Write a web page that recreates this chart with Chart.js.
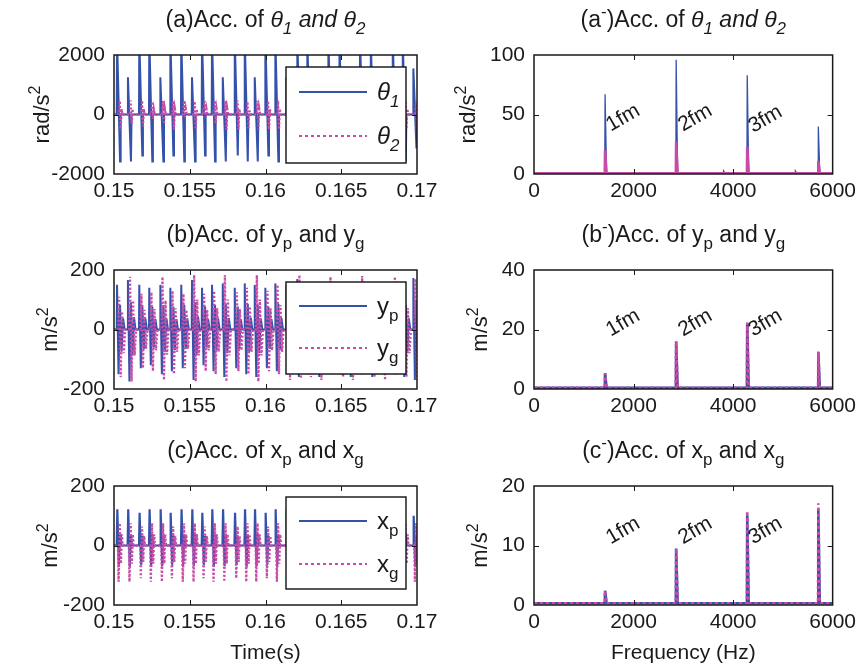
<!DOCTYPE html>
<html><head><meta charset="utf-8">
<script src="https://cdn.jsdelivr.net/npm/chart.js@4.4.1/dist/chart.umd.min.js"></script>
<style>
html,body{margin:0;padding:0;background:#fff;}
#wrap{position:relative;width:861px;height:664px;overflow:hidden;background:#fff;}
#wrap canvas{position:absolute;left:0;top:0;}
</style></head><body><div id="wrap">
<canvas id="c1" width="861" height="664"></canvas>
<canvas id="c2" width="861" height="664"></canvas>
<canvas id="c3" width="861" height="664"></canvas>
<canvas id="c4" width="861" height="664"></canvas>
<canvas id="c5" width="861" height="664"></canvas>
<canvas id="c6" width="861" height="664"></canvas>
</div>
<script>
// ---------------- DATA ----------------
const timeTickValues = [0.15, 0.155, 0.16, 0.165, 0.17];
const timeTickLabels = ['0.15', '0.155', '0.16', '0.165', '0.17'];
const freqTickValues = [0, 2000, 4000, 6000];
const freqTickLabels = ['0', '2000', '4000', '6000'];
const thetaAccTicks = [-2000, 0, 2000];
const thetaAccLabels = ['-2000', '0', '2000'];
const linAccTicks = [-200, 0, 200];
const linAccLabels = ['-200', '0', '200'];
const thetaSpecTicks = [0, 50, 100];
const ySpecTicks = [0, 20, 40];
const xSpecTicks = [0, 10, 20];

// times of the mesh impacts (s)
const spikeTimes = [0.15020, 0.15092, 0.15167, 0.15233, 0.15306, 0.15372, 0.15444, 0.15515, 0.15581, 0.15647,
  0.15718, 0.15797, 0.15863, 0.15929, 0.15999, 0.16065, 0.16138, 0.16210, 0.16276, 0.16345,
  0.16415, 0.16488, 0.16553, 0.16624, 0.16695, 0.16765, 0.16840, 0.16906, 0.16976];

// (a) theta1 / theta2 peaks (rad/s^2)
const theta1Hi = [2600,1250,2600,2600,1250,2600,2600,1250,2600,2600,1250,2600,2600,1250,2600,2600,1250,2600,2600,1250,2600,2600,1250,2600,2600,1250,2600,2600,1550];
const theta1Lo = [-1580,-1580,-1380,-1580,-1580,-1380,-1580,-1580,-1380,-1580,-1580,-1380,-1580,-1580,-1380,-1580,-1580,-1380,-1580,-1580,-1380,-1580,-1580,-1380,-1580,-1580,-1380,-1580,-1110];
const theta2Hi = [460,470,470,430,450,460,470,440,450,470,460,470,430,460,450,470,460,450,470,440,460,470,450,460,470,440,460,470,430];
const theta2Lo = [-540,-310,-400,-150,-320,-500,-100,-500,-100,-310,-500,-500,-500,-500,-500,-500,-480,-500,-480,-520,-500,-520,-480,-500,-540,-500,-520,-480,-540];

// (b) y_p / y_g peaks (m/s^2)
const ypHi = [150,166,150,140,150,140,150,166,140,150,155,140,155,150,140,155,150,170,150,160,150,140,160,150,145,160,150,150,173];
const ypLo = [-150,-175,-130,-120,-150,-140,-130,-170,-120,-140,-160,-130,-150,-160,-130,-140,-150,-160,-150,-160,-140,-150,-160,-150,-160,-150,-150,-160,-170];
const ygHi = [110,177,120,125,177,130,120,183,120,130,183,125,140,183,130,150,120,183,130,140,177,120,150,180,130,140,177,130,170];
const ygLo = [-160,-175,-130,-140,-170,-150,-130,-175,-140,-150,-175,-140,-150,-175,-140,-150,-170,-165,-160,-170,-150,-160,-170,-150,-160,-170,-150,-160,-170];

// (c) x_p / x_g peaks (m/s^2)
const xpHi = [122,122,110,122,122,110,122,122,110,122,122,110,122,122,110,122,122,110,122,122,110,122,122,110,122,122,110,122,100];
const xpLo = [-71,-70,-65,-71,-70,-65,-71,-70,-65,-71,-70,-65,-71,-70,-65,-71,-70,-65,-71,-70,-65,-71,-70,-65,-71,-70,-65,-71,-70];
const xgHi = [75,75,64,75,75,64,75,75,64,75,75,64,75,75,64,75,75,64,75,75,64,75,75,64,75,75,64,75,75];
const xgLo = [-122,-122,-110,-122,-122,-110,-122,-122,-110,-122,-122,-110,-122,-122,-110,-122,-122,-110,-122,-122,-110,-122,-122,-110,-122,-122,-110,-122,-122];

// spectra (Hz, amplitude)
const thetaSpecFreqs = [1428, 2856, 3809, 4284, 5251, 5712];
const theta1Spec = [67, 96, 2.5, 83, 2.5, 40];
const theta2Spec = [20, 27, 0.5, 23, 0.5, 11];
const meshFreqs = [1428, 2856, 4284, 5712];
const ypSpec = [5.3, 16, 22.3, 12.5];
const ygSpec = [5.3, 16, 22.3, 12.5];
const xpSpec = [2.4, 9.5, 15.1, 16.0];
const xgSpec = [2.4, 9.5, 15.8, 17.1];
const specFloor = [0.5, 0.4, 0.3];

const fmLabels = ['1fm', '2fm', '3fm'];
const fmLabelFreqs = [1790, 3240, 4650];
const fmLabelThetaY = [47, 47, 46];
const fmLabelYY = [22.2, 22.2, 22.2];
const fmLabelXY = [12.5, 12.5, 12.5];

// ---------------- HELPERS ----------------
const BLUE = '#3552AB';
const PINK = '#C84BA6';
const FAM = '"Liberation Sans", Arial, Helvetica, sans-serif';
Chart.defaults.font.family = FAM;
Chart.defaults.color = '#1a1a1a';

function pulseSeries(times, hi, lo, shape, x0, x1) {
  const pts = [{x: x0, y: 0}];
  times.forEach((t, i) => {
    shape.forEach(([dt, kind, f]) => {
      const v = kind === 'h' ? hi[i] * f : kind === 'l' ? lo[i] * f : 0;
      pts.push({x: t + dt, y: v});
    });
  });
  pts.push({x: x1, y: 0});
  return pts;
}
function spectrum(freqs, amps, base) {
  const pts = [{x: 0, y: base}];
  freqs.forEach((f, i) => { pts.push({x: f - 6, y: base}, {x: f, y: amps[i]}, {x: f + 30, y: base}); });
  pts.push({x: 6000, y: base});
  return pts;
}

function drawRich(ctx, segs, x, y, size, align, color) {
  const parts = segs.map(s => {
    const sz = (s.sub || s.sup) ? Math.round(size * 0.72) : size;
    const font = (s.it ? 'italic ' : '') + sz + 'px ' + FAM;
    ctx.font = font;
    return {t: s.t, font, w: ctx.measureText(s.t).width, dy: s.sub ? size * 0.3 : s.sup ? -size * 0.42 : 0};
  });
  const total = parts.reduce((a, p) => a + p.w, 0);
  let cx = align === 'center' ? x - total / 2 : align === 'right' ? x - total : x;
  ctx.fillStyle = color || '#1a1a1a';
  ctx.textAlign = 'left';
  ctx.textBaseline = 'alphabetic';
  for (const p of parts) { ctx.font = p.font; ctx.fillText(p.t, cx, y + p.dy); cx += p.w; }
}

const decor = {
  id: 'decor',
  afterDatasetsDraw(chart) {
    const o = chart.options.plugins.decor;
    const ctx = chart.ctx, a = chart.chartArea;
    const xs = chart.scales.x, ys = chart.scales.y;
    ctx.save();
    if (o.legend) {
      const L = o.legend;
      ctx.fillStyle = '#fff';
      ctx.fillRect(L.x1, L.y1, L.x2 - L.x1, L.y2 - L.y1);
      ctx.strokeStyle = '#111'; ctx.lineWidth = 1.4;
      ctx.strokeRect(L.x1, L.y1, L.x2 - L.x1, L.y2 - L.y1);
      L.items.forEach(it => {
        ctx.beginPath();
        ctx.strokeStyle = it.color; ctx.lineWidth = 2;
        ctx.setLineDash(it.dash || []);
        ctx.moveTo(L.lx1, it.y); ctx.lineTo(L.lx2, it.y); ctx.stroke();
        ctx.setLineDash([]);
        drawRich(ctx, it.label, L.tx, it.y + 8, 24, 'left');
      });
    }
    if (o.notes) {
      ctx.font = '21px ' + FAM;
      ctx.fillStyle = '#1a1a1a';
      o.notes.text.forEach((t, i) => {
        const px = xs.getPixelForValue(o.notes.x[i]);
        const py = ys.getPixelForValue(o.notes.y[i]);
        ctx.save(); ctx.translate(px, py); ctx.rotate(-Math.PI / 6);
        ctx.textAlign = 'center'; ctx.textBaseline = 'middle';
        ctx.fillText(t, 0, 0); ctx.restore();
      });
    }
    ctx.strokeStyle = '#1a1a1a'; ctx.lineWidth = 1.5;
    ctx.strokeRect(a.left, a.top, a.right - a.left, a.bottom - a.top);
    ctx.lineWidth = 1;
    const tl = 5;
    o.xt.forEach(v => {
      const p = Math.round(xs.getPixelForValue(v)) + 0.5;
      if (p - a.left < 2 || a.right - p < 2) return;
      ctx.beginPath(); ctx.moveTo(p, a.bottom); ctx.lineTo(p, a.bottom - tl);
      ctx.moveTo(p, a.top); ctx.lineTo(p, a.top + tl); ctx.stroke();
    });
    o.yt.forEach(v => {
      const p = Math.round(ys.getPixelForValue(v)) + 0.5;
      if (p - a.top < 2 || a.bottom - p < 2) return;
      ctx.beginPath(); ctx.moveTo(a.left, p); ctx.lineTo(a.left + tl, p);
      ctx.moveTo(a.right, p); ctx.lineTo(a.right - tl, p); ctx.stroke();
    });
    drawRich(ctx, o.title, (a.left + a.right) / 2, a.top - 28, 23, 'center');
    ctx.save(); ctx.translate(o.yTitleX, (a.top + a.bottom) / 2); ctx.rotate(-Math.PI / 2);
    drawRich(ctx, o.yTitle, 0, 0, 22, 'center'); ctx.restore();
    if (o.xTitle) drawRich(ctx, [{t: o.xTitle}], (a.left + a.right) / 2, 659, 21, 'center');
    ctx.restore();
  }
};

function labelFor(vals, labels, v) {
  let best = 0;
  vals.forEach((w, i) => { if (Math.abs(w - v) < Math.abs(vals[best] - v)) best = i; });
  return labels[best];
}

function makeChart(id, box, xr, yr, datasets, deco) {
  const YW = 80, XH = 40;
  return new Chart(document.getElementById(id), {
    type: 'line',
    data: {datasets},
    plugins: [decor],
    options: {
      responsive: false, animation: false, events: [],
      layout: {autoPadding: false, padding: {left: box.l - YW, right: 861 - box.r, top: box.t, bottom: 664 - box.b - XH}},
      plugins: {legend: {display: false}, tooltip: {enabled: false}, title: {display: false}, decor: deco},
      elements: {point: {radius: 0}, line: {tension: 0}},
      scales: {
        x: {type: 'linear', min: xr.min, max: xr.max,
          grid: {display: false, drawTicks: false}, border: {display: false},
          afterBuildTicks: s => { s.ticks = xr.ticks.map(v => ({value: v})); },
          afterFit: s => { s.height = XH; },
          ticks: {autoSkip: false, maxRotation: 0, padding: 5, font: {size: 21}, color: '#1a1a1a',
            callback: v => labelFor(xr.ticks, xr.labels, v)}},
        y: {type: 'linear', min: yr.min, max: yr.max,
          grid: {display: false, drawTicks: false}, border: {display: false},
          afterBuildTicks: s => { s.ticks = yr.ticks.map(v => ({value: v})); },
          afterFit: s => { s.width = YW; },
          ticks: {autoSkip: false, padding: 9, font: {size: 21}, color: '#1a1a1a',
            callback: v => labelFor(yr.ticks, yr.labels, v)}}
      }
    }
  });
}

// pulse shapes (time offsets after each impact)
const shapeA1 = [[-0.00002,'z'],[0,'h',1],[0.0002,'l',1],[0.00024,'z']];
const shapeA2 = [[0.00013,'z'],[0.00018,'h',1],[0.00024,'l',1],[0.0003,'h',0.4],[0.00036,'z']];
const shapeB1 = [[-0.00002,'z'],[0,'h',1],[0.0001,'l',1],[0.0002,'h',0.55],[0.0003,'l',0.5],[0.0004,'h',0.25],[0.0005,'z']];
const shapeB2 = [[0.00008,'z'],[0.00014,'h',1],[0.00024,'l',1],[0.00034,'h',0.55],[0.00044,'l',0.5],[0.00054,'z']];
const shapeC1 = [[-0.00002,'z'],[0.00002,'h',1],[0.00012,'l',1],[0.0002,'h',0.3],[0.00026,'z']];
const shapeC2 = [[0.00006,'z'],[0.0001,'l',1],[0.00018,'h',1],[0.00026,'l',0.5],[0.00032,'h',0.5],[0.00038,'z']];

const L = {l: 114, r: 417}, R = {l: 534, r: 836};
const rows = [{t: 55, b: 174}, {t: 270, b: 389}, {t: 486, b: 605}];
const timeX = {min: 0.15, max: 0.17, ticks: timeTickValues, labels: timeTickLabels};
const freqX = {min: 0, max: 6000, ticks: freqTickValues, labels: freqTickLabels};
const sq = [{t: 'rad/s'}, {t: '2', sup: 1}];
const msq = [{t: 'm/s'}, {t: '2', sup: 1}];
const th = (n) => [{t: 'θ', it: 1}, {t: n, it: 1, sub: 1}];

// blue series: order 1 (behind), pink series: order 0 (drawn on top)
makeChart('c1', {...L, ...rows[0]}, timeX, {min: -2000, max: 2000, ticks: thetaAccTicks, labels: thetaAccLabels}, [
  {data: pulseSeries(spikeTimes, theta1Hi, theta1Lo, shapeA1, 0.15, 0.17), borderColor: BLUE, borderWidth: 2, order: 1},
  {data: pulseSeries(spikeTimes, theta2Hi, theta2Lo, shapeA2, 0.15, 0.17), borderColor: PINK, borderWidth: 2.3, borderDash: [2, 2], order: 0}
], {title: [{t: '(a)Acc. of '}, ...th('1'), {t: ' and ', it: 1}, ...th('2')], yTitle: sq, yTitleX: 49,
  xt: timeTickValues, yt: thetaAccTicks,
  legend: {x1: 286, y1: 67, x2: 406, y2: 163, lx1: 299, lx2: 367, tx: 377,
    items: [{color: BLUE, y: 92, label: th('1')}, {color: PINK, dash: [3, 3], y: 136, label: th('2')}]}});

makeChart('c3', {...L, ...rows[1]}, timeX, {min: -200, max: 200, ticks: linAccTicks, labels: linAccLabels}, [
  {data: pulseSeries(spikeTimes, ypHi, ypLo, shapeB1, 0.15, 0.17), borderColor: BLUE, borderWidth: 2, order: 1},
  {data: pulseSeries(spikeTimes, ygHi, ygLo, shapeB2, 0.15, 0.17), borderColor: PINK, borderWidth: 2.3, borderDash: [2, 2], order: 0}
], {title: [{t: '(b)Acc. of y'}, {t: 'p', sub: 1}, {t: ' and y'}, {t: 'g', sub: 1}], yTitle: msq, yTitleX: 57,
  xt: timeTickValues, yt: linAccTicks,
  legend: {x1: 286, y1: 282, x2: 406, y2: 374, lx1: 299, lx2: 367, tx: 377,
    items: [{color: BLUE, y: 306, label: [{t: 'y'}, {t: 'p', sub: 1}]}, {color: PINK, dash: [3, 3], y: 348, label: [{t: 'y'}, {t: 'g', sub: 1}]}]}});

makeChart('c5', {...L, ...rows[2]}, timeX, {min: -200, max: 200, ticks: linAccTicks, labels: linAccLabels}, [
  {data: pulseSeries(spikeTimes, xpHi, xpLo, shapeC1, 0.15, 0.17), borderColor: BLUE, borderWidth: 2.2, order: 1},
  {data: pulseSeries(spikeTimes, xgHi, xgLo, shapeC2, 0.15, 0.17), borderColor: PINK, borderWidth: 2.3, borderDash: [2, 2], order: 0}
], {title: [{t: '(c)Acc. of x'}, {t: 'p', sub: 1}, {t: ' and x'}, {t: 'g', sub: 1}], yTitle: msq, yTitleX: 57,
  xt: timeTickValues, yt: linAccTicks, xTitle: 'Time(s)',
  legend: {x1: 286, y1: 497, x2: 406, y2: 589, lx1: 299, lx2: 367, tx: 377,
    items: [{color: BLUE, y: 521, label: [{t: 'x'}, {t: 'p', sub: 1}]}, {color: PINK, dash: [3, 3], y: 564, label: [{t: 'x'}, {t: 'g', sub: 1}]}]}});

makeChart('c2', {...R, ...rows[0]}, freqX, {min: 0, max: 100, ticks: thetaSpecTicks, labels: thetaSpecTicks.map(String)}, [
  {data: spectrum(thetaSpecFreqs, theta1Spec, specFloor[0]), borderColor: BLUE, borderWidth: 1.3, order: 1},
  {data: spectrum(thetaSpecFreqs, theta2Spec, specFloor[0]), borderColor: PINK, borderWidth: 2.6, order: 0}
], {title: [{t: '(a'}, {t: '-', sup: 1}, {t: ')Acc. of '}, ...th('1'), {t: ' and ', it: 1}, ...th('2')], yTitle: sq, yTitleX: 475,
  xt: freqTickValues, yt: thetaSpecTicks,
  notes: {text: fmLabels, x: fmLabelFreqs, y: fmLabelThetaY}});

makeChart('c4', {...R, ...rows[1]}, freqX, {min: 0, max: 40, ticks: ySpecTicks, labels: ySpecTicks.map(String)}, [
  {data: spectrum(meshFreqs, ypSpec, specFloor[1]), borderColor: BLUE, borderWidth: 2.6, order: 1},
  {data: spectrum(meshFreqs, ygSpec, specFloor[1]), borderColor: PINK, borderWidth: 2.6, borderDash: [3, 3], order: 0}
], {title: [{t: '(b'}, {t: '-', sup: 1}, {t: ')Acc. of y'}, {t: 'p', sub: 1}, {t: ' and y'}, {t: 'g', sub: 1}], yTitle: msq, yTitleX: 487,
  xt: freqTickValues, yt: ySpecTicks,
  notes: {text: fmLabels, x: fmLabelFreqs, y: fmLabelYY}});

makeChart('c6', {...R, ...rows[2]}, freqX, {min: 0, max: 20, ticks: xSpecTicks, labels: xSpecTicks.map(String)}, [
  {data: spectrum(meshFreqs, xpSpec, specFloor[2]), borderColor: BLUE, borderWidth: 2.6, order: 1},
  {data: spectrum(meshFreqs, xgSpec, specFloor[2]), borderColor: PINK, borderWidth: 2.6, borderDash: [3, 3], order: 0}
], {title: [{t: '(c'}, {t: '-', sup: 1}, {t: ')Acc. of x'}, {t: 'p', sub: 1}, {t: ' and x'}, {t: 'g', sub: 1}], yTitle: msq, yTitleX: 487,
  xt: freqTickValues, yt: xSpecTicks, xTitle: 'Frequency (Hz)',
  notes: {text: fmLabels, x: fmLabelFreqs, y: fmLabelXY}});
</script>
</body></html>
